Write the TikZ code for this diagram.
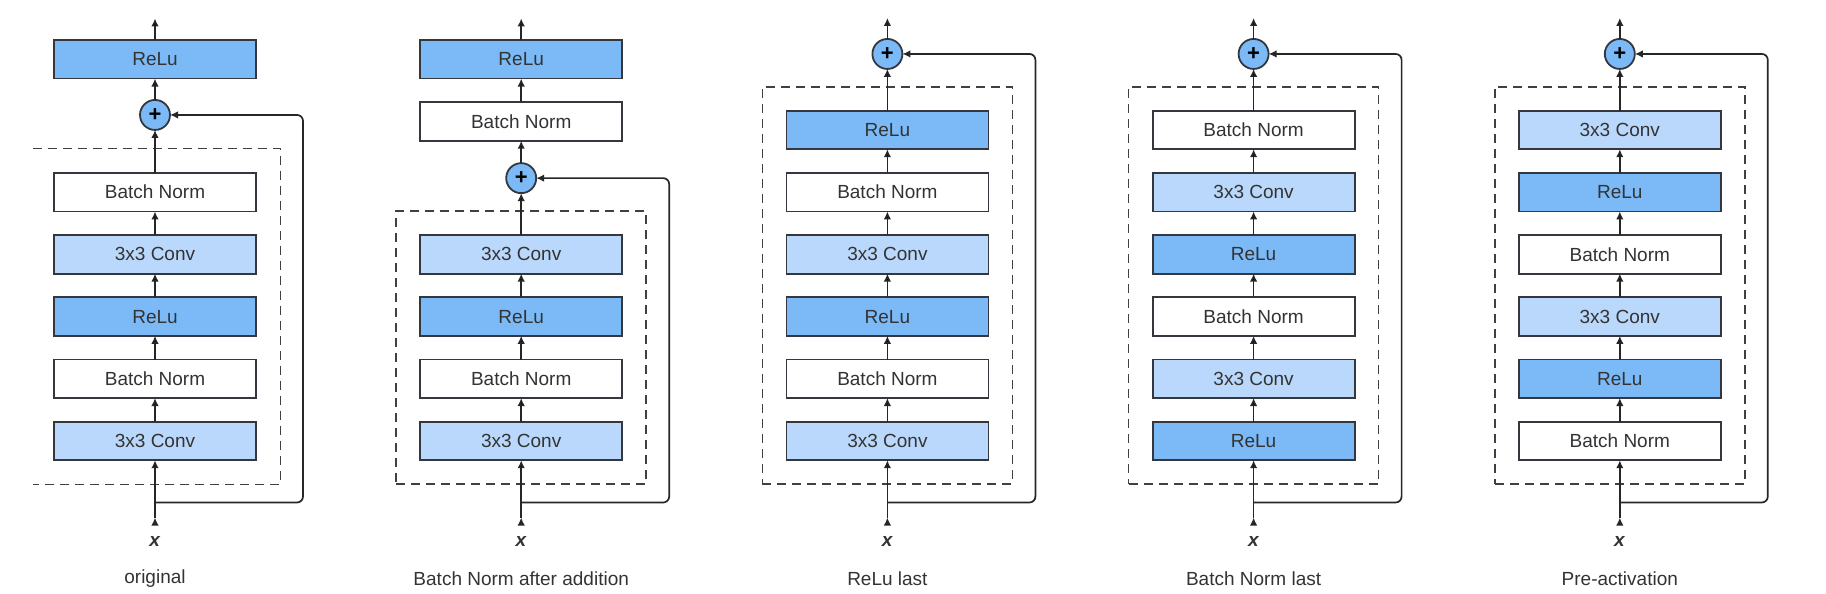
\documentclass[tikz,border=0pt]{standalone}
\usepackage{fontspec}
\setmainfont{Liberation Sans}
\usetikzlibrary{positioning,fit,arrows.meta}
\definecolor{relublue}{RGB}{123,186,247}
\definecolor{convblue}{RGB}{186,216,251}
\definecolor{edgegray}{RGB}{52,56,62}
\tikzset{layer/.style={rectangle,draw=edgegray,line width=0.9pt,minimum width=101pt,minimum height=19.25pt,
            inner sep=0pt,outer sep=0pt,font=\fontsize{9.5}{11}\selectfont,text=black!80},
         relu node/.style={layer,fill=relublue},
         conv node/.style={layer,fill=convblue},
         bn node/.style={layer,fill=white},
         add node/.style={circle,draw=edgegray,fill=relublue,line width=0.9pt,minimum size=15pt,
            inner sep=0pt,outer sep=0pt,font=\fontsize{11}{11}\selectfont\bfseries},
         flow/.style={draw=black!85,line width=0.85pt,-{Latex[length=4pt,width=3.8pt]}},
         skip/.style={flow,rounded corners=3pt},
         res block/.style={draw=black!75,line width=0.85pt,dash pattern=on 4.5pt off 3pt},
         caption/.style={font=\fontsize{9.5}{11}\selectfont,text=black!80},
            }

\begin{document}
\begin{tikzpicture}
    \useasboundingbox (0,0) rectangle (913pt,297pt);

    % original
    \begin{scope}[xshift=77.5pt]
      \node[conv node] (c1) at (0,76.5pt) {3x3 Conv};
      \node[bn node] (b1) [above=11.85pt of c1] {Batch Norm};
      \node[relu node] (r1) [above=11.85pt of b1] {ReLu};
      \node[conv node] (c2) [above=11.85pt of r1] {3x3 Conv};
      \node[bn node] (b2) [above=11.85pt of c2] {Batch Norm};
      \node[add node] (add) [above=21.5pt of b2] {+};
      \node[relu node] (out) [above=10.7pt of add] {ReLu};
      \coordinate[above=10.8pt of out] (top);
      \coordinate (in) at (0,38.2pt);
      \coordinate (br) at (0,45.75pt);
      \coordinate (sk) at (74pt,45.75pt);
      \node[caption] (x) at (0,26.25pt) {\textbf{\textit{x}}};
      \node[caption] (cap) at (0,7.85pt) {original};
      \node[fit=(c1)(b2),inner sep=12pt] (blk) {};
      \draw[res block] ([xshift=1.5pt]blk.north west) -- (blk.north east)
        -- (blk.south east) -- ([xshift=1.5pt]blk.south west);

      \path[flow]
      (in) edge (c1)
      (c1) edge (b1)
      (b1) edge (r1)
      (r1) edge (c2)
      (c2) edge (b2)
      (b2) edge (add)
      (add) edge (out)
      (out) edge (top);
      \draw[skip] (br) -- (sk) |- (add);
    \end{scope}

    % batch norm after addition
    \begin{scope}[xshift=260.6pt]
      \node[conv node] (c1) at (0,76.5pt) {3x3 Conv};
      \node[bn node] (b1) [above=11.85pt of c1] {Batch Norm};
      \node[relu node] (r1) [above=11.85pt of b1] {ReLu};
      \node[conv node] (c2) [above=11.85pt of r1] {3x3 Conv};
      \node[add node] (add) [above=21pt of c2] {+};
      \node[bn node] (b2) [above=11.2pt of add] {Batch Norm};
      \node[relu node] (out) [above=11.85pt of b2] {ReLu};
      \coordinate[above=10.8pt of out] (top);
      \coordinate (in) at (0,38.2pt);
      \coordinate (br) at (0,45.75pt);
      \coordinate (sk) at (74pt,45.75pt);
      \node[caption] (x) at (0,26.25pt) {\textbf{\textit{x}}};
      \node[caption] (cap) at (0,7.85pt) {Batch Norm after addition};
      \node[res block,fit=(c1)(c2),inner sep=12pt] (blk) {};

      \path[flow]
      (in) edge (c1)
      (c1) edge (b1)
      (b1) edge (r1)
      (r1) edge (c2)
      (c2) edge (add)
      (add) edge (b2)
      (b2) edge (out)
      (out) edge (top);
      \draw[skip] (br) -- (sk) |- (add);
    \end{scope}

    % relu last
    \begin{scope}[xshift=443.7pt]
      \node[conv node] (c1) at (0,76.5pt) {3x3 Conv};
      \node[bn node] (b1) [above=11.85pt of c1] {Batch Norm};
      \node[relu node] (r1) [above=11.85pt of b1] {ReLu};
      \node[conv node] (c2) [above=11.85pt of r1] {3x3 Conv};
      \node[bn node] (b2) [above=11.85pt of c2] {Batch Norm};
      \node[relu node] (r2) [above=11.85pt of b2] {ReLu};
      \node[add node] (add) [above=20.9pt of r2] {+};
      \coordinate[above=10.5pt of add] (top);
      \coordinate (in) at (0,38.2pt);
      \coordinate (br) at (0,45.75pt);
      \coordinate (sk) at (74pt,45.75pt);
      \node[caption] (x) at (0,26.25pt) {\textbf{\textit{x}}};
      \node[caption] (cap) at (0,7.85pt) {ReLu last};
      \node[res block,fit=(c1)(r2),inner sep=12pt] (blk) {};

      \path[flow]
      (in) edge (c1)
      (c1) edge (b1)
      (b1) edge (r1)
      (r1) edge (c2)
      (c2) edge (b2)
      (b2) edge (r2)
      (r2) edge (add)
      (add) edge (top);
      \draw[skip] (br) -- (sk) |- (add);
    \end{scope}

    % batch norm last
    \begin{scope}[xshift=626.8pt]
      \node[relu node] (r1) at (0,76.5pt) {ReLu};
      \node[conv node] (c1) [above=11.85pt of r1] {3x3 Conv};
      \node[bn node] (b1) [above=11.85pt of c1] {Batch Norm};
      \node[relu node] (r2) [above=11.85pt of b1] {ReLu};
      \node[conv node] (c2) [above=11.85pt of r2] {3x3 Conv};
      \node[bn node] (b2) [above=11.85pt of c2] {Batch Norm};
      \node[add node] (add) [above=20.9pt of b2] {+};
      \coordinate[above=10.5pt of add] (top);
      \coordinate (in) at (0,38.2pt);
      \coordinate (br) at (0,45.75pt);
      \coordinate (sk) at (74pt,45.75pt);
      \node[caption] (x) at (0,26.25pt) {\textbf{\textit{x}}};
      \node[caption] (cap) at (0,7.85pt) {Batch Norm last};
      \node[res block,fit=(r1)(b2),inner sep=12pt] (blk) {};

      \path[flow]
      (in) edge (r1)
      (r1) edge (c1)
      (c1) edge (b1)
      (b1) edge (r2)
      (r2) edge (c2)
      (c2) edge (b2)
      (b2) edge (add)
      (add) edge (top);
      \draw[skip] (br) -- (sk) |- (add);
    \end{scope}

    % pre-activation
    \begin{scope}[xshift=809.9pt]
      \node[bn node] (b1) at (0,76.5pt) {Batch Norm};
      \node[relu node] (r1) [above=11.85pt of b1] {ReLu};
      \node[conv node] (c1) [above=11.85pt of r1] {3x3 Conv};
      \node[bn node] (b2) [above=11.85pt of c1] {Batch Norm};
      \node[relu node] (r2) [above=11.85pt of b2] {ReLu};
      \node[conv node] (c2) [above=11.85pt of r2] {3x3 Conv};
      \node[add node] (add) [above=20.9pt of c2] {+};
      \coordinate[above=10.5pt of add] (top);
      \coordinate (in) at (0,38.2pt);
      \coordinate (br) at (0,45.75pt);
      \coordinate (sk) at (74pt,45.75pt);
      \node[caption] (x) at (0,26.25pt) {\textbf{\textit{x}}};
      \node[caption] (cap) at (0,7.85pt) {Pre-activation};
      \node[res block,fit=(b1)(c2),inner sep=12pt] (blk) {};

      \path[flow]
      (in) edge (b1)
      (b1) edge (r1)
      (r1) edge (c1)
      (c1) edge (b2)
      (b2) edge (r2)
      (r2) edge (c2)
      (c2) edge (add)
      (add) edge (top);
      \draw[skip] (br) -- (sk) |- (add);
    \end{scope}
\end{tikzpicture}
\end{document}
